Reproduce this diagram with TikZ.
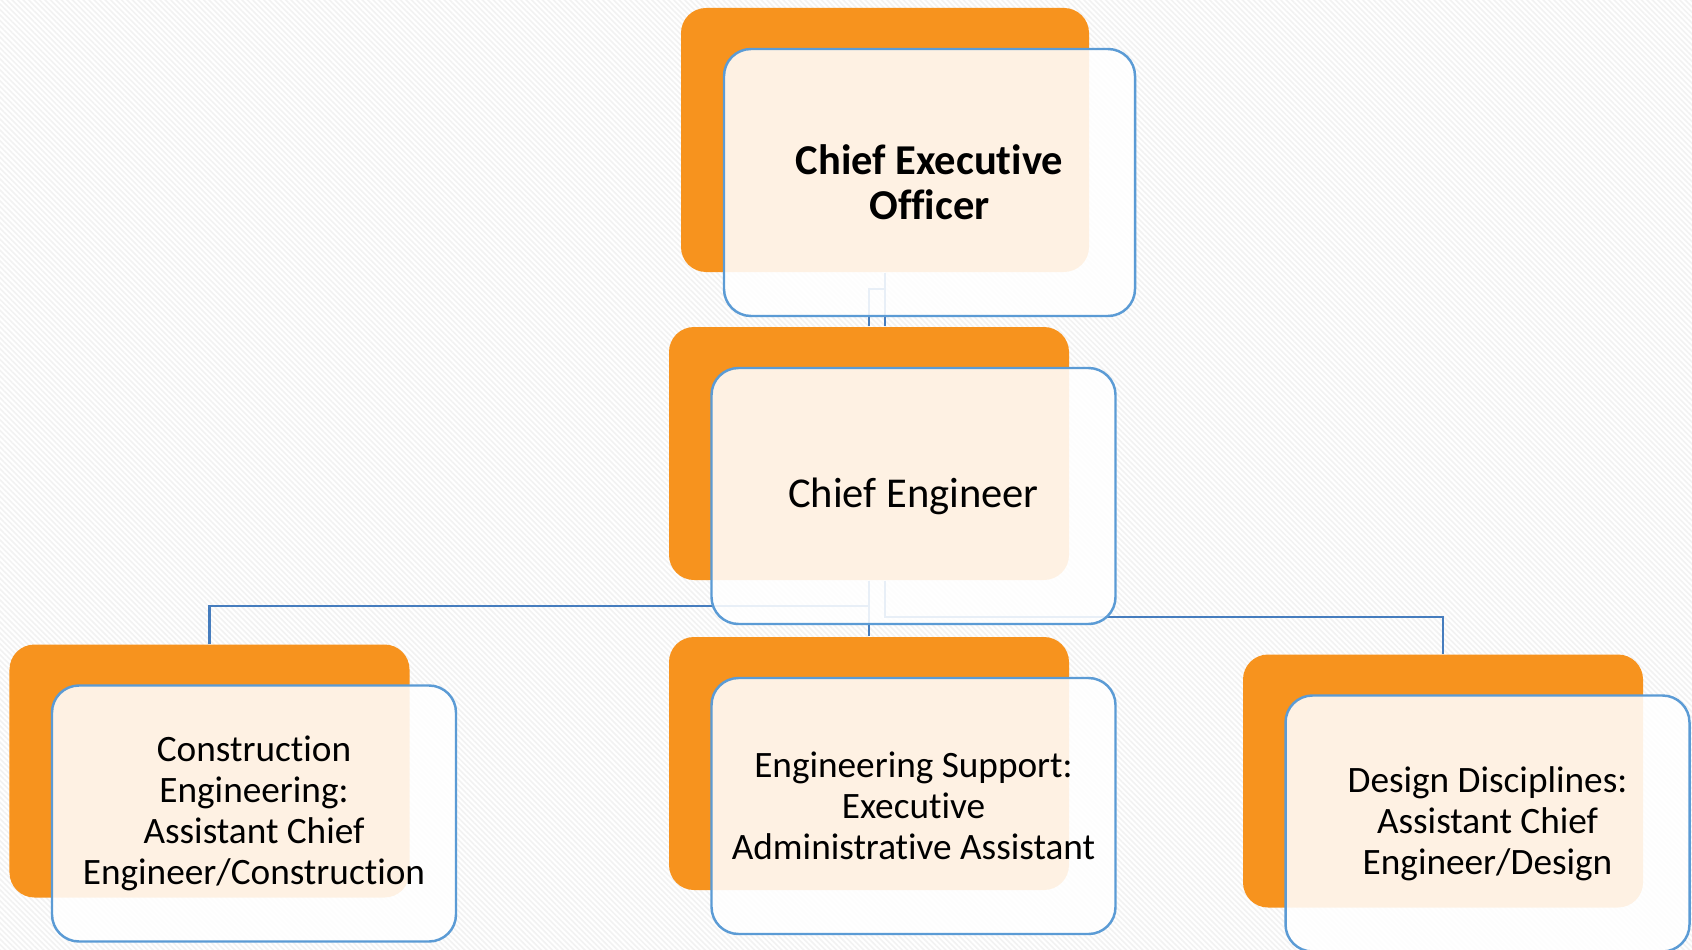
\documentclass[tikz,border=0pt]{standalone}
\usepackage{fontspec}
\setmainfont{Carlito}[Ligatures=NoCommon]
\usetikzlibrary{positioning,patterns.meta}
\definecolor{orangeB}{RGB}{247,147,30}
\definecolor{blueF}{RGB}{91,155,213}
\definecolor{blueL}{RGB}{70,125,190}

\begin{document}
\begin{tikzpicture}[node distance=3.135cm,on grid,
	back/.style={fill=orangeB,rounded corners=0.25cm,minimum width=4.0cm,minimum height=2.53cm},
	front/.style={draw=blueF,line width=0.7pt,fill=white,fill opacity=0.88,text opacity=1,
		rounded corners=0.27cm,minimum width=4.04cm,minimum height=2.56cm,align=center,
		font=\fontsize{10.6}{11.7}\selectfont},
	link/.style={draw=blueL,line width=0.6pt}]
			\fill[white] (0,0) rectangle (16.92,-9.50);
			\path[pattern={Lines[angle=-45,distance=1.1pt,line width=0.45pt]},pattern color=black!5] (0,0) rectangle (16.92,-9.50);
			\useasboundingbox (0,0) rectangle (16.92,-9.50);

			\node[back,minimum width=4.08cm,minimum height=2.64cm] (ceo_b) at (8.85,-1.40) {};
			\node[back] (ce_b) [below left=3.135cm and 0.16cm of ceo_b] {};
			\node[back] (con_b) [below left=3.175cm and 6.595cm of ce_b] {};
			\node[back] (sup_b) [below=3.10cm of ce_b] {};
			\node[back] (des_b) [below right=3.275cm and 5.74cm of ce_b] {};

			\path[link] (ceo_b.south) -- (ceo_b.south |- ce_b.north);
			\path[link] (ceo_b.south) ++(0,-0.16) -| (ce_b.north);
			\path[link] (ce_b.south) -- ++(0,-0.25) -| (con_b.north);
			\path[link] (ce_b.south) -- (sup_b.north);
			\path[link] ([xshift=0.16cm]ce_b.south) -- ++(0,-0.36) -| (des_b.north);

			\node[front,font=\bfseries\fontsize{12.1}{12.8}\selectfont,minimum width=4.11cm,minimum height=2.67cm] (ceo_f) [below right=0.425cm and 0.445cm of ceo_b] {Chief Executive\\Officer};
			\node[front,font=\fontsize{12.1}{12.8}\selectfont] (ce_f) [below right=0.425cm and 0.445cm of ce_b] {Chief Engineer};
			\node[front] (con_f) [below right=0.425cm and 0.445cm of con_b] {Construction\\Engineering:\\Assistant Chief\\Engineer/Construction};
			\node[front] (sup_f) [below right=0.425cm and 0.445cm of sup_b] {Engineering Support:\\Executive\\Administrative Assistant};
			\node[front] (des_f) [below right=0.425cm and 0.445cm of des_b] {Design Disciplines:\\Assistant Chief\\Engineer/Design};
		\end{tikzpicture}
\end{document}
